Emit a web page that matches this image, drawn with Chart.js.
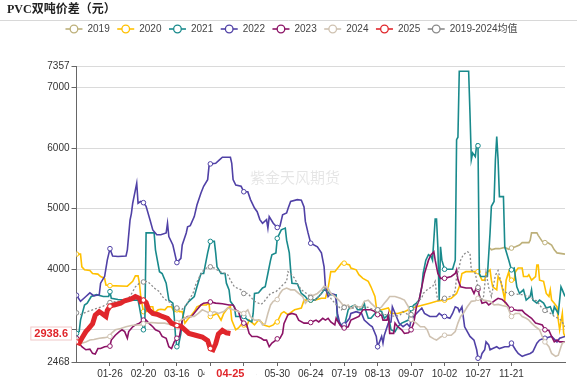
<!DOCTYPE html>
<html><head><meta charset="utf-8">
<script src="https://cdn.jsdelivr.net/npm/chart.js@4/dist/chart.umd.min.js"></script>
<style>html,body{margin:0;padding:0;background:#fff;}#wrap{width:577px;height:383px;position:relative;}</style>
</head><body><div id="wrap"><canvas id="c" width="577" height="383"></canvas></div>
<script>
// ---- data (day index of a leap year, value) ----
const seriesNames = ['2019','2020','2021','2022','2023','2024','2025','2019-2024均值'];
const xTickDays = [25,50,75,100,125,150,175,200,225,250,275,300,325];
const yTicks = [2468,3000,4000,5000,6000,7000,7357];
const latestValue = 2938.6;
const latestDay = 115;

const s2019 = [[309,4350],[310,4320],[313,4340],[316,4340],[320,4360],[323,4330],[325,4350],[328,4370],[331,4400],[333,4440],[338,4440],[339,4480],[340,4600],[344,4600],[345,4560],[348,4460],[350,4440],[352,4440],[355,4400],[357,4320],[359,4270],[365,4250]];
const s2020 = [[0,4250],[3,4250],[4,4040],[6,3990],[10,3980],[12,3930],[16,3920],[18,3880],[21,3850],[22,3740],[25,3730],[38,3720],[42,3800],[44,3890],[46,3890],[47,3770],[48,3550],[50,3300],[52,3300],[54,3380],[57,3380],[58,3270],[61,3330],[63,3340],[66,3330],[68,3380],[71,3380],[73,3300],[75,3330],[77,3300],[79,3300],[81,3110],[83,3170],[85,3220],[88,3300],[90,3380],[93,3410],[97,3410],[99,3440],[100,3220],[103,3250],[105,3270],[108,3160],[110,3270],[113,3360],[115,3380],[116,3160],[119,3000],[121,3030],[124,3110],[125,3080],[127,3050],[129,3160],[133,3080],[136,3160],[138,3130],[140,3080],[144,3050],[147,3080],[149,3130],[150,3130],[153,3270],[155,3300],[158,3250],[161,3300],[163,3330],[168,3360],[170,3490],[175,3490],[178,3490],[183,3520],[186,3520],[188,3690],[190,3960],[193,3960],[198,4100],[200,4100],[204,4070],[205,4020],[209,3990],[211,3910],[214,3850],[218,3800],[220,3710],[223,3550],[224,3380],[225,3330],[228,3330],[233,3360],[235,3270],[240,3270],[245,3300],[248,3330],[250,3350],[254,3380],[259,3410],[264,3440],[269,3470],[274,3490],[275,3490],[280,3520],[284,3600],[286,3710],[288,3930],[291,3960],[298,3960],[300,3960],[303,3820],[305,3820],[306,3930],[309,3990],[310,3820],[311,3710],[314,3660],[315,3880],[317,3800],[319,3600],[320,3490],[321,3820],[323,3960],[324,3820],[325,3820],[327,3820],[328,3960],[330,4020],[333,4020],[334,3880],[337,3880],[338,3910],[340,3820],[343,3880],[344,4070],[345,4070],[346,3820],[349,3800],[351,3600],[353,3550],[354,3660],[355,3490],[357,3440],[359,3380],[360,3160],[361,3000],[363,3270],[364,2940],[365,2890]];
const s2021 = [[0,2940],[2,2970],[3,3160],[6,3410],[8,3440],[11,3550],[15,3580],[20,3550],[24,3550],[25,3630],[26,3520],[31,3500],[36,3490],[46,3490],[47,3380],[49,3130],[50,3000],[51,3000],[52,4600],[58,4600],[59,4320],[62,3960],[64,3930],[67,3770],[69,3490],[72,3440],[73,3220],[74,2890],[75,2720],[76,2720],[78,2940],[79,3160],[81,3380],[84,3470],[88,3550],[90,3710],[93,3930],[95,3930],[98,4270],[100,4460],[103,4460],[104,4270],[105,4040],[108,3930],[111,3930],[112,3770],[114,3660],[115,3470],[118,3380],[119,3220],[125,3220],[128,3160],[131,3130],[132,3270],[133,3600],[136,3610],[139,3690],[141,3710],[143,3930],[145,4150],[146,4240],[149,4270],[150,4510],[153,4650],[156,4680],[157,4480],[159,4270],[160,3990],[161,3770],[165,3760],[168,3600],[171,3550],[173,3490],[175,3490],[178,3490],[181,3550],[183,3600],[185,3660],[187,3640],[190,3580],[194,3580],[195,3160],[198,3080],[200,3050],[203,3330],[205,3380],[208,3410],[210,3330],[213,3330],[215,3440],[216,3330],[218,3190],[220,3190],[223,3270],[225,3330],[228,3300],[230,3190],[233,3250],[235,3000],[238,2970],[240,3050],[243,3110],[248,3160],[250,3350],[252,3410],[254,3440],[256,3490],[258,3710],[259,3930],[261,4150],[263,4240],[265,4210],[266,4150],[268,4830],[269,4830],[270,4370],[271,3490],[272,4370],[273,4150],[275,4000],[276,4000],[281,4000],[283,4150],[284,6140],[285,6180],[286,7270],[293,7270],[294,6580],[295,5810],[296,5920],[298,5860],[299,6060],[300,6040],[301,3930],[302,3880],[307,3880],[309,4600],[310,5040],[312,5120],[313,5810],[314,6190],[315,5810],[316,5200],[319,5200],[320,4370],[323,4150],[325,3990],[327,4020],[329,3710],[331,3600],[334,3660],[336,3490],[339,3550],[340,3660],[341,3490],[344,3440],[346,3490],[349,3440],[351,3360],[354,3380],[356,3270],[357,3380],[360,3270],[362,3710],[363,3660],[365,3550]];
const s2022 = [[0,3570],[3,3470],[7,3550],[10,3610],[13,3560],[17,3580],[18,3770],[21,3880],[23,4150],[25,4340],[27,4220],[31,4210],[37,4220],[38,4320],[40,4810],[41,4920],[42,5090],[44,5310],[45,5420],[46,5090],[48,5120],[50,5100],[52,5040],[55,4810],[57,4650],[60,4570],[63,4570],[67,4600],[68,4760],[69,4540],[72,4400],[75,4110],[78,4180],[79,4400],[82,4600],[83,4700],[85,4720],[88,4870],[90,5060],[93,5260],[95,5370],[98,5480],[99,5700],[100,5740],[104,5750],[107,5810],[109,5850],[115,5850],[116,5750],[117,5480],[119,5390],[123,5370],[125,5280],[128,5280],[130,5150],[133,5010],[135,4950],[137,4820],[139,4760],[142,4820],[143,4680],[144,4870],[147,4760],[150,4690],[152,4710],[154,4900],[157,4930],[158,5000],[160,5120],[165,5150],[168,5140],[170,5030],[171,4790],[173,4600],[175,4430],[180,4370],[183,4270],[185,4040],[186,3710],[188,3550],[190,3600],[193,3580],[194,3490],[195,3270],[197,3080],[199,3050],[200,3080],[204,3190],[205,3270],[209,3300],[213,3270],[215,3160],[219,3080],[221,3050],[224,2890],[225,2720],[228,2890],[229,2780],[230,2910],[233,3110],[235,3130],[236,3380],[239,3220],[241,3110],[244,3050],[247,3100],[249,3050],[250,3170],[254,3270],[258,3360],[260,3270],[264,3220],[269,3220],[271,3270],[274,3220],[275,3220],[279,3190],[281,3270],[283,3380],[285,3360],[286,3300],[288,3380],[290,3050],[294,2890],[297,2830],[299,2670],[300,2530],[302,2530],[303,2610],[305,2670],[306,2800],[308,2750],[309,2670],[311,2690],[314,2720],[316,2690],[320,2720],[323,2720],[325,2780],[328,2670],[330,2610],[333,2560],[335,2580],[339,2610],[341,2640],[344,2780],[346,2830],[349,2860],[350,2860],[355,2890],[359,2800],[361,2860],[365,2890]];
const s2023 = [[0,2860],[2,2780],[4,2720],[7,2670],[10,2680],[12,2610],[14,2600],[16,2690],[18,2690],[21,2720],[25,2730],[26,2830],[29,2910],[32,2970],[34,3000],[36,2970],[38,2860],[39,2970],[42,3050],[44,3080],[47,3110],[50,3160],[52,3160],[54,3110],[57,3050],[59,3000],[62,2970],[64,2890],[67,2860],[69,2720],[71,2690],[73,2800],[75,2860],[77,2900],[79,3160],[83,3220],[86,3220],[90,3330],[93,3410],[95,3440],[99,3450],[100,3460],[104,3440],[109,3430],[114,3410],[117,3410],[119,3330],[121,3300],[123,3160],[125,3110],[127,3100],[129,2940],[131,2890],[135,2890],[138,2860],[140,2830],[142,2830],[144,2720],[146,2780],[149,2830],[150,2850],[152,2860],[154,2940],[155,3100],[158,3250],[161,3270],[164,3250],[166,3160],[170,3110],[174,3110],[175,3120],[179,3160],[181,3130],[184,3190],[186,3160],[188,3190],[190,3130],[193,3080],[194,3190],[196,3110],[198,3050],[200,3030],[203,3050],[205,3160],[208,3190],[211,3220],[214,3330],[220,3330],[223,3300],[225,3250],[228,3240],[229,3160],[232,3160],[233,3250],[234,2940],[237,2940],[238,3110],[240,3050],[243,3000],[245,2940],[248,2950],[250,3000],[252,3110],[254,3380],[256,3490],[258,3710],[260,3930],[263,4150],[265,4240],[267,4290],[268,4150],[270,3930],[272,3850],[275,3850],[280,3880],[283,3930],[284,3990],[285,3830],[287,3710],[291,3690],[295,3690],[297,3600],[299,3710],[300,3670],[301,3560],[303,3440],[306,3460],[308,3410],[310,3440],[313,3490],[315,3520],[318,3500],[321,3440],[323,3380],[325,3340],[330,3320],[333,3320],[335,3270],[338,3220],[340,3190],[343,3110],[345,3100],[348,3080],[350,3000],[353,2990],[355,2890],[357,2800],[359,2830],[361,2800],[365,2800]];
const s2024 = [[0,2830],[2,2790],[4,2780],[7,2800],[10,2830],[13,2840],[17,2860],[21,2870],[25,2890],[26,2940],[29,3000],[33,3020],[37,3050],[41,3070],[44,3080],[48,3080],[50,3100],[51,3110],[56,3120],[61,3110],[66,3110],[71,3080],[74,3110],[75,3120],[78,3160],[81,3190],[84,3220],[88,3220],[91,3270],[94,3330],[97,3300],[100,3270],[103,3300],[106,3270],[110,3300],[113,3360],[117,3330],[121,3300],[125,3270],[128,3330],[130,3220],[133,3160],[137,3160],[139,3080],[141,3100],[143,3270],[145,3410],[147,3470],[149,3490],[150,3500],[152,3600],[154,3660],[157,3690],[160,3660],[163,3660],[166,3600],[169,3550],[171,3440],[173,3490],[175,3550],[180,3600],[183,3660],[185,3720],[188,3690],[190,3600],[193,3550],[196,3490],[198,3440],[200,3380],[203,3410],[205,3350],[208,3410],[210,3380],[213,3380],[215,3470],[218,3490],[220,3440],[223,3380],[225,3330],[228,3380],[230,3440],[232,3490],[234,3550],[238,3550],[242,3520],[245,3490],[248,3380],[249,3220],[250,3170],[254,3110],[257,3050],[260,3050],[262,3000],[264,2890],[267,2850],[269,2830],[272,2880],[275,2910],[280,2910],[283,2970],[285,3110],[287,3220],[289,3270],[292,3380],[295,3470],[298,3480],[300,3520],[302,3520],[304,3490],[309,3470],[312,3410],[315,3420],[318,3400],[322,3380],[324,3270],[325,3220],[328,3270],[331,3270],[333,3220],[336,3190],[338,3160],[340,3110],[343,3050],[346,3000],[348,2890],[350,2800],[353,2720],[355,2610],[358,2560],[360,2580],[362,2720],[363,2780],[365,2800]];
const s2025 = [[0,2800],[2,2780],[4,2860],[7,2970],[9,3020],[12,3100],[14,3240],[17,3300],[19,3270],[22,3220],[23,3320],[25,3390],[28,3410],[33,3440],[36,3480],[41,3510],[44,3550],[47,3520],[48,3470],[50,3490],[52,3450],[54,3330],[57,3270],[61,3250],[64,3220],[68,3190],[71,3110],[75,3070],[78,3060],[80,3020],[84,2940],[89,2910],[94,2880],[98,2820],[100,2690],[102,2670],[104,2770],[106,2930],[109,2990],[112,2950],[115,2938.6]];
const sAvg = [[0,3280],[3,3250],[8,3300],[12,3330],[16,3360],[20,3390],[23,3430],[25,3450],[31,3470],[36,3490],[40,3550],[42,3630],[44,3710],[47,3770],[50,3790],[53,3800],[56,3740],[58,3690],[62,3630],[64,3550],[67,3490],[70,3450],[72,3380],[75,3360],[79,3340],[82,3410],[84,3490],[87,3600],[89,3740],[92,3880],[94,3960],[97,4020],[100,4040],[103,4020],[107,3960],[111,3930],[113,3910],[115,3820],[118,3710],[121,3680],[123,3660],[125,3600],[128,3600],[130,3550],[133,3470],[135,3450],[138,3420],[140,3460],[143,3550],[145,3600],[149,3630],[152,3690],[154,3740],[157,3800],[158,3960],[160,3930],[163,3850],[165,3760],[168,3660],[170,3630],[173,3580],[175,3530],[178,3490],[181,3550],[183,3600],[185,3690],[187,3660],[190,3520],[193,3440],[196,3380],[198,3330],[200,3370],[203,3380],[205,3360],[208,3360],[210,3380],[212,3350],[215,3380],[218,3370],[220,3350],[222,3330],[225,3330],[228,3270],[230,3250],[233,3250],[236,3230],[239,3220],[242,3250],[244,3300],[247,3260],[249,3220],[250,3250],[253,3380],[256,3490],[258,3520],[259,3600],[262,3660],[264,3690],[266,3710],[268,3800],[269,3600],[270,3490],[273,3500],[275,3520],[279,3550],[282,3580],[283,3660],[284,3880],[286,4040],[287,4150],[289,4240],[292,4290],[294,4270],[295,3990],[298,3930],[300,3700],[302,3500],[304,3520],[306,3950],[308,3700],[310,3550],[313,3900],[315,3980],[317,3800],[319,3650],[322,3600],[325,3600],[328,3590],[333,3580],[336,3560],[339,3550],[342,3490],[344,3480],[347,3380],[350,3320],[352,3300],[355,3260],[357,3220],[360,3190],[362,3160],[365,3050]];

const seriesData = [s2019,s2020,s2021,s2022,s2023,s2024,s2025,sAvg];
const colors = ['#BDB07A','#FFC000','#198A8C','#5041A6','#8C1366','#CFC2B1','#E0262B','#8A8A8A'];
const widths = [1.6,1.6,1.6,1.6,1.6,1.6,5,1.3];

function dayLabel(d){
  const ml=[31,29,31,30,31,30,31,31,30,31,30,31];
  let m=0; d=Math.round(d);
  while(m<11 && d>=ml[m]){d-=ml[m];m++;}
  return String(m+1).padStart(2,'0')+'-'+String(d+1).padStart(2,'0');
}
const toXY = a => a.map(p => ({x:p[0], y:p[1]}));
const LATIN = '"Liberation Sans", "Noto Sans CJK SC", sans-serif';

const header = {
  id:'header',
  beforeDatasetsDraw(chart){
    const c = chart.ctx;
    c.save();
    c.font = '15px "Noto Sans CJK SC", sans-serif';
    c.fillStyle = 'rgba(0,0,0,0.10)';
    c.textAlign='center'; c.textBaseline='middle';
    c.fillText('紫金天风期货', 295, 177);
    c.restore();
  },
  afterDraw(chart){
    const c = chart.ctx;
    const xs = chart.scales.x, ys = chart.scales.y;
    c.save();
    c.font = 'bold 12px "Liberation Serif", "Noto Sans CJK SC", serif';
    c.fillStyle = '#222'; c.textBaseline='middle'; c.textAlign='left';
    c.fillText('PVC双吨价差（元）', 7, 10);
    c.strokeStyle = '#d8d8d8'; c.lineWidth = 1;
    c.beginPath(); c.moveTo(0,20.5); c.lineTo(577,20.5); c.stroke();
    c.font = '10px '+LATIN;
    const iconW = 17, gapIT = 5, gapItem = 7.5;
    const widthsT = seriesNames.map(n => c.measureText(n).width);
    let total = 0;
    widthsT.forEach((w,i)=>{ total += iconW+gapIT+w + (i<widthsT.length-1?gapItem:0); });
    let x = 291.5 - total/2; const ly = 29;
    seriesNames.forEach((n,i)=>{
      c.strokeStyle = colors[i]; c.lineWidth = 1.6;
      c.beginPath(); c.moveTo(x, ly); c.lineTo(x+iconW, ly); c.stroke();
      c.beginPath(); c.arc(x+iconW/2, ly, 3.8, 0, Math.PI*2);
      c.fillStyle='#fff'; c.fill(); c.lineWidth=1.3; c.stroke();
      c.fillStyle = '#444'; c.textAlign='left'; c.textBaseline='middle';
      c.fillText(n, x+iconW+gapIT, ly+0.5);
      x += iconW+gapIT+widthsT[i]+gapItem;
    });
    const yv = ys.getPixelForValue(latestValue);
    c.font = 'bold 11px '+LATIN;
    const tw = c.measureText(String(latestValue)).width;
    const bx = 72 - tw - 8, bw = tw + 8;
    c.fillStyle = '#fff'; c.strokeStyle = '#f0c8c8'; c.lineWidth = 1;
    c.fillRect(bx, yv-7, bw, 14); c.strokeRect(bx+0.5, yv-6.5, bw-1, 13);
    c.fillStyle = '#E0262B'; c.textAlign='center'; c.textBaseline='middle';
    c.fillText(String(latestValue), bx+bw/2, yv+0.5);
    const xv = xs.getPixelForValue(latestDay);
    c.fillStyle = '#fff'; c.fillRect(xv-26, 366, 52, 16);
    c.fillStyle = '#E0262B'; c.font = 'bold 11px '+LATIN;
    c.fillText(dayLabel(latestDay), xv, 374);
    c.restore();
  }
};

new Chart(document.getElementById('c').getContext('2d'), {
  type:'line',
  data:{ datasets: seriesNames.map((n,i)=>({
    label:n, data: toXY(seriesData[i]),
    borderColor: colors[i], backgroundColor: colors[i], borderWidth: widths[i],
    borderDash: i===7 ? [2,2] : [],
    pointRadius: ctx => (ctx.raw && ctx.raw.x % 25 === 0) ? 2.3 : 0,
    pointHoverRadius: 0,
    pointBackgroundColor:'#fff', pointBorderColor: colors[i], pointBorderWidth: 1,
    tension:0, fill:false, spanGaps:true,
    order: i===6 ? -5 : 10-i
  }))},
  options:{
    responsive:false, animation:false, devicePixelRatio:1,
    layout:{padding:{top:66,right:12,left:0,bottom:0}},
    plugins:{legend:{display:false}, title:{display:false}, tooltip:{enabled:false}},
    scales:{
      x:{ type:'linear', min:0, max:365,
        afterBuildTicks: s => { s.ticks = xTickDays.map(v=>({value:v})); },
        afterFit: s => { s.height = 21; },
        ticks:{ callback: v => dayLabel(v), font:{size:10, family:LATIN}, color:'#333', padding:2, maxRotation:0, autoSkip:false },
        grid:{ drawOnChartArea:false, drawTicks:true, tickLength:4, color:'#666' },
        border:{ color:'#666' }
      },
      y:{ min:2468, max:7357,
        afterBuildTicks: s => { s.ticks = yTicks.map(v=>({value:v})); },
        afterFit: s => { s.width = 76.5; },
        ticks:{ callback: v => v===3000 ? '' : String(v), font:{size:10, family:LATIN}, color:'#333', padding:2, autoSkip:false },
        grid:{ color:'#dadada', tickColor:'#666', tickLength:5 },
        border:{ color:'#666' }
      }
    }
  },
  plugins:[header]
});
</script></body></html>
